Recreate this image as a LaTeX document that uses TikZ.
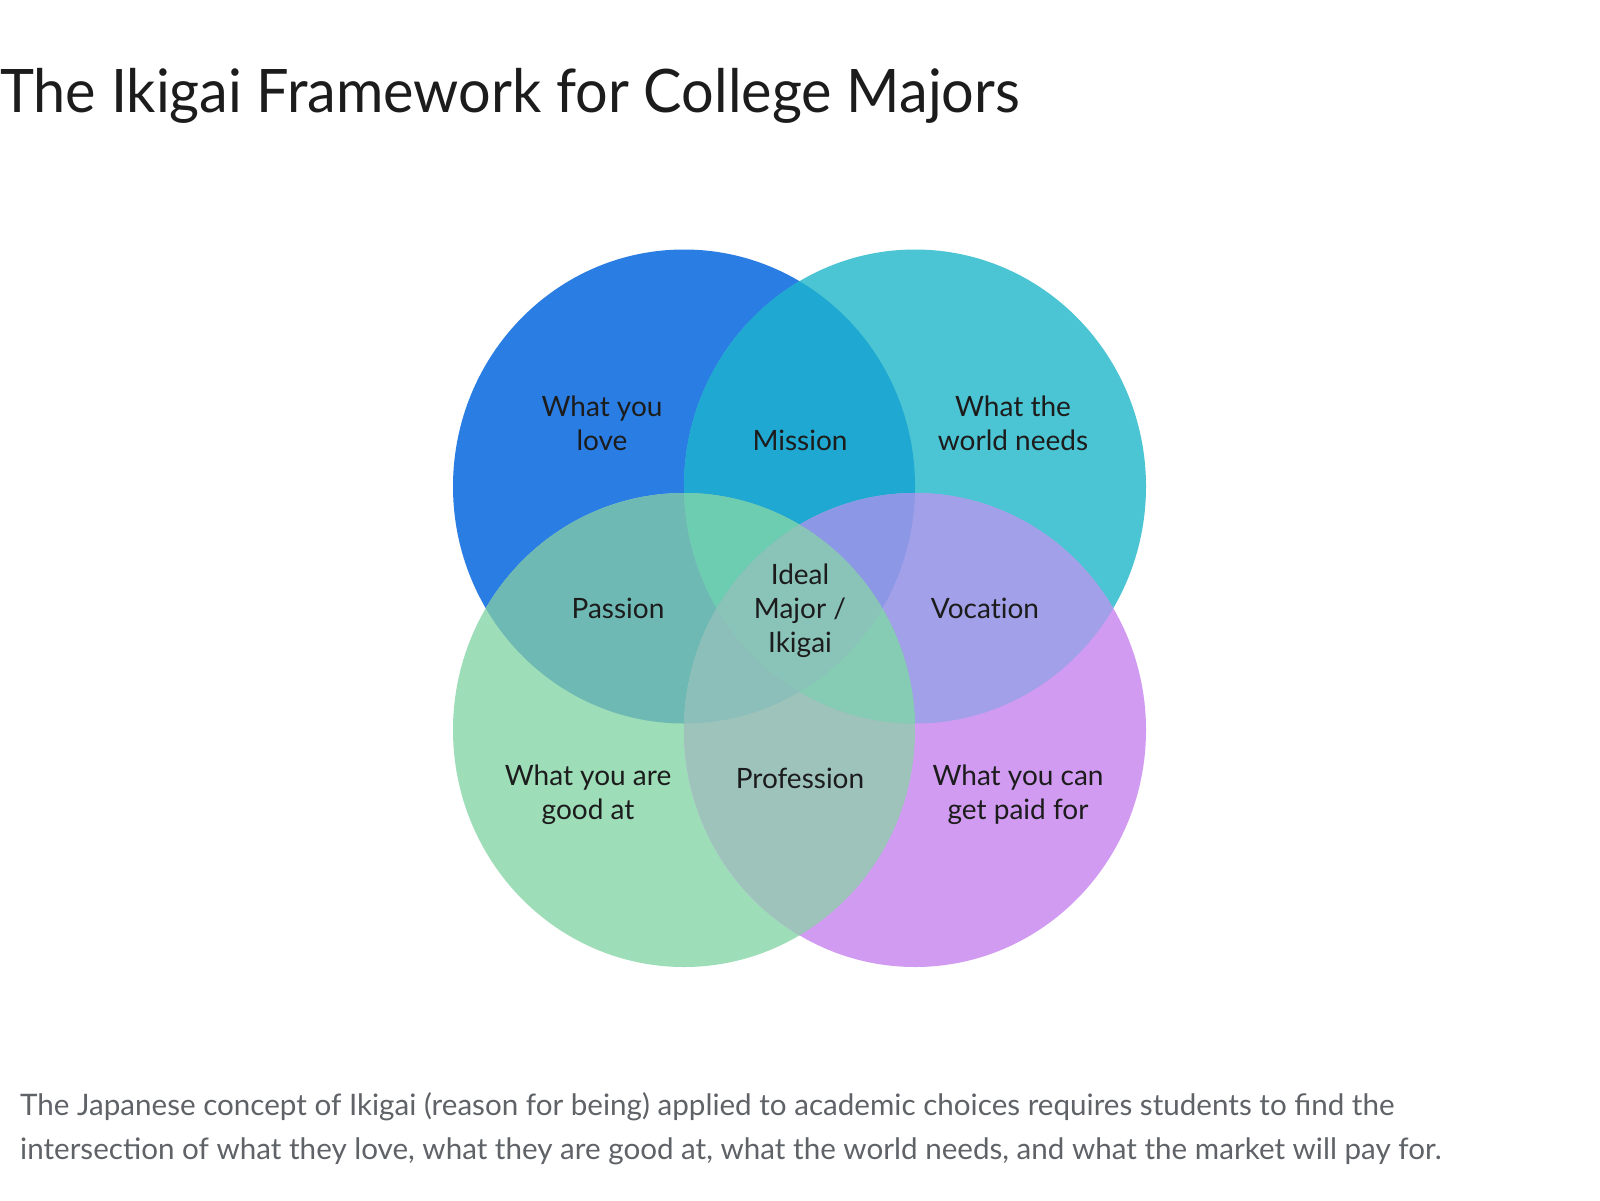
\documentclass[tikz,border=0pt]{standalone}
\usepackage{fontspec}
\setmainfont{Lato}
\newfontfamily\lblfont{Lato}[Ligatures=NoCommon]
\definecolor{cTL}{HTML}{2A7DE2}
\definecolor{cTR}{HTML}{4BC4D3}
\definecolor{cBL}{HTML}{9DDDB8}
\definecolor{cBR}{HTML}{D29BF2}
\definecolor{cMission}{HTML}{1FA8D1}
\definecolor{cPassion}{HTML}{6FB9B5}
\definecolor{cVocation}{HTML}{A1A0E8}
\definecolor{cProfession}{HTML}{9DC3BB}
\definecolor{cTLTRBL}{HTML}{6CCDB0}
\definecolor{cTLTRBR}{HTML}{8C97E6}
\definecolor{cTLBLBR}{HTML}{8CBFBA}
\definecolor{cTRBLBR}{HTML}{86CBB4}
\definecolor{cAll}{HTML}{8AC3B8}
\definecolor{txt}{HTML}{1C1C1C}
\definecolor{captxt}{HTML}{5F6368}
\begin{document}
\begin{tikzpicture}[x=1pt,y=-1pt,
  lbl/.style={align=center,text=txt,font=\lblfont\fontsize{28}{34}\selectfont,inner sep=0pt},
  titlestyle/.style={anchor=base west,inner sep=0pt,text=txt,font=\fontsize{60}{70}\selectfont,xscale=0.96,transform shape},
  capstyle/.style={anchor=base west,inner sep=0pt,text=captxt,font=\fontsize{29.6}{44}\selectfont}]
\useasboundingbox[fill=white] (0,0) rectangle (1600,1200);
\def\rx{231}\def\ry{237}
\coordinate (TL) at (684,486.5);
\coordinate (TR) at (915,486.5);
\coordinate (BL) at (684,730);
\coordinate (BR) at (915,730);
\newcommand\myell[1]{(#1) ellipse [x radius=\rx, y radius=\ry]}
% single circles
\fill[cTL] \myell{TL};
\fill[cTR] \myell{TR};
\fill[cBL] \myell{BL};
\fill[cBR] \myell{BR};
% pairs
\begin{scope}\clip \myell{TL}; \fill[cMission] \myell{TR}; \fill[cPassion] \myell{BL}; \fill[cAll] \myell{BR}; \end{scope}
\begin{scope}\clip \myell{BR}; \fill[cVocation] \myell{TR}; \fill[cProfession] \myell{BL}; \end{scope}
\begin{scope}\clip \myell{TR}; \fill[cAll] \myell{BL}; \end{scope}
% triples
\begin{scope}\clip \myell{TL}; \clip \myell{TR}; \fill[cTLTRBL] \myell{BL}; \fill[cTLTRBR] \myell{BR}; \end{scope}
\begin{scope}\clip \myell{BL}; \clip \myell{BR}; \fill[cTLBLBR] \myell{TL}; \fill[cTRBLBR] \myell{TR}; \end{scope}
% all four
\begin{scope}\clip \myell{TL}; \clip \myell{TR}; \clip \myell{BL}; \fill[cAll] \myell{BR}; \end{scope}
% labels
\node[lbl] (love) at (602,423) {What you\\love};
\node[lbl] (mission) at (800,440) {Mission};
\node[lbl] (needs) at (1013,423) {What the\\world needs};
\node[lbl] (passion) at (618,608) {Passion};
\node[lbl] (ideal) at (800,611) {Ideal\\Major /\\Ikigai};
\node[lbl] (vocation) at (985,608) {Vocation};
\node[lbl] (good) at (588,795) {What you are\\good at};
\node[lbl] (profession) at (800,778) {Profession};
\node[lbl] (paid) at (1018,795) {What you can\\get paid for};
% title and caption
\node[titlestyle] (title) at (0,112) {The Ikigai Framework for College Majors};
\node[capstyle] (cap1) at (20,1115) {The Japanese concept of Ikigai (reason for being) applied to academic choices requires students to find the};
\node[capstyle] (cap2) at (20,1159) {intersection of what they love, what they are good at, what the world needs, and what the market will pay for.};
\end{tikzpicture}
\end{document}
